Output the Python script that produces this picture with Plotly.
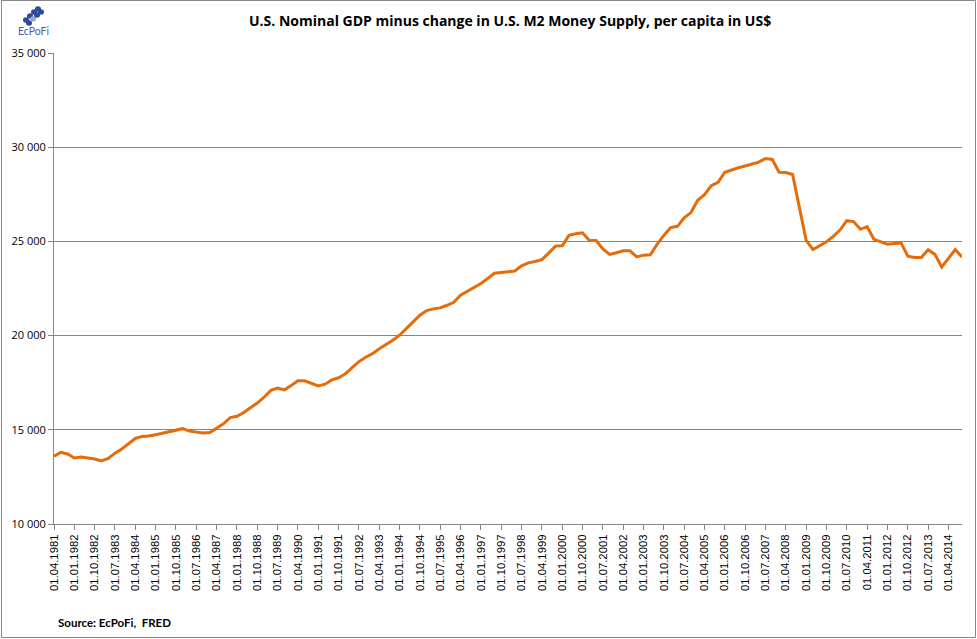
import plotly.graph_objects as go

# quarterly dates 1981Q2 .. 2014Q4
years = list(range(1981, 2015))
months = ["01", "04", "07", "10"]
dates = []
for y in years:
    for m in months:
        dates.append(f"01.{m}.{y}")
dates = dates[1:]  # start at 01.04.1981

values = [
    13600, 13800, 13720, 13500, 13550, 13510, 13450, 13350, 13480, 13760,
    13980, 14260, 14540, 14650, 14670, 14740, 14810, 14890, 14960, 15060,
    14930, 14880, 14830, 14860, 15080, 15320, 15650, 15720, 15920, 16150,
    16420, 16730, 17090, 17210, 17120, 17350, 17600, 17600, 17480, 17330,
    17420, 17650, 17760, 17970, 18300, 18620, 18850, 19040, 19300, 19520,
    19750, 20020, 20400, 20730, 21080, 21330, 21420, 21470, 21610, 21770,
    22140, 22350, 22550, 22760, 23030, 23310, 23350, 23380, 23430, 23700,
    23860, 23930, 24030, 24380, 24750, 24770, 25320, 25410, 25460, 25050,
    25050, 24600, 24310, 24400, 24500, 24500, 24180, 24270, 24290, 24840,
    25320, 25730, 25800, 26250, 26530, 27180, 27480, 27960, 28140, 28670,
    28800, 28910, 29000, 29100, 29210, 29400, 29350, 28670, 28660, 28550,
    26830, 25060, 24570, 24770, 24980, 25270, 25600, 26100, 26050, 25640,
    25780, 25110, 24960, 24850, 24890, 24920, 24220, 24150, 24150, 24560,
    24310, 23640, 24100, 24560, 24170,
]
dates = dates[:len(values)]
tick_labels = dates[::3]

title_text = "U.S. Nominal GDP minus change in U.S. M2 Money Supply, per capita in US$"
source_text = "Source: EcPoFi,  FRED"

W, H = 977, 639
ML, MR, MT, MB = 54, 15, 53, 115
PW, PH = W - ML - MR, H - MT - MB


def px_x(p):
    return (p - ML) / PW


def px_y(p):
    return (H - MB - p) / PH


fig = go.Figure()
fig.add_trace(go.Scatter(
    x=dates, y=values, mode="lines",
    line=dict(color="#E46C0A", width=3),
    hoverinfo="x+y", showlegend=False,
))

fig.update_layout(
    width=W, height=H,
    margin=dict(l=ML, r=MR, t=MT, b=MB, autoexpand=False),
    paper_bgcolor="white", plot_bgcolor="white",
    separators=". ",
    font=dict(family="Liberation Sans, Arial, sans-serif", color="black", size=11),
    xaxis=dict(
        type="category", automargin=False,
        range=[0, len(values) - 1],
        tickmode="array", tickvals=tick_labels, ticktext=tick_labels,
        tickangle=-90,
        ticks="outside", ticklen=5, tickcolor="#868686",
        showline=True, linecolor="#868686", linewidth=1,
        showgrid=False, zeroline=False,
        tickfont=dict(family="Liberation Sans, Arial, sans-serif", size=11.3),
    ),
    yaxis=dict(
        automargin=False,
        range=[10000, 35000], dtick=5000, tickformat=",d",
        ticks="outside", ticklen=5, tickcolor="#868686",
        showline=True, linecolor="#868686", linewidth=1,
        showgrid=True, gridcolor="#868686", gridwidth=1,
        zeroline=False,
        tickfont=dict(family="Open Sans, sans-serif", size=11),
    ),
)

# title
fig.add_annotation(
    text=f"<b>{title_text}</b>", xref="paper", yref="paper",
    x=px_x(510), y=px_y(20), xanchor="center", yanchor="middle",
    showarrow=False, font=dict(family="Open Sans, sans-serif", size=14, color="black"),
)
# source
fig.add_annotation(
    text=f"<b>{source_text}</b>", xref="paper", yref="paper",
    x=px_x(56), y=px_y(622), xanchor="left", yanchor="middle",
    showarrow=False, font=dict(family="Lato, sans-serif", size=11.5, color="black"),
)
# logo text
fig.add_annotation(
    text="EcPoFi", xref="paper", yref="paper",
    x=px_x(33), y=px_y(31), xanchor="center", yanchor="middle",
    showarrow=False, font=dict(family="Lato, sans-serif", size=10.5, color="#4a5f9a"),
)

shapes = []
# outer chart border
shapes.append(dict(type="rect", xref="paper", yref="paper",
                   x0=px_x(1.5), x1=px_x(975.5), y0=px_y(637.5), y1=px_y(0.5),
                   line=dict(color="#868686", width=1), fillcolor="rgba(0,0,0,0)",
                   layer="below"))
# simple logo glyph (diagonal band of blue blobs)
logo_pts = [(26, 20, "#2c4a9a"), (30, 16, "#2c4a9a"), (34, 12, "#2c4a9a"), (38, 9, "#2c4a9a"),
            (29, 23, "#2c4a9a"), (33, 19, "#9aa6c4"), (37, 15, "#2c4a9a"), (41, 12, "#2c4a9a")]
for (cx, cy, col) in logo_pts:
    shapes.append(dict(type="circle", xref="paper", yref="paper",
                       x0=px_x(cx - 3), x1=px_x(cx + 3),
                       y0=px_y(cy + 2.7), y1=px_y(cy - 2.7),
                       line=dict(width=0), fillcolor=col))
fig.update_layout(shapes=shapes)

fig.write_html("out.html", config={"displayModeBar": False},
               post_script="document.body.style.margin='0';")
